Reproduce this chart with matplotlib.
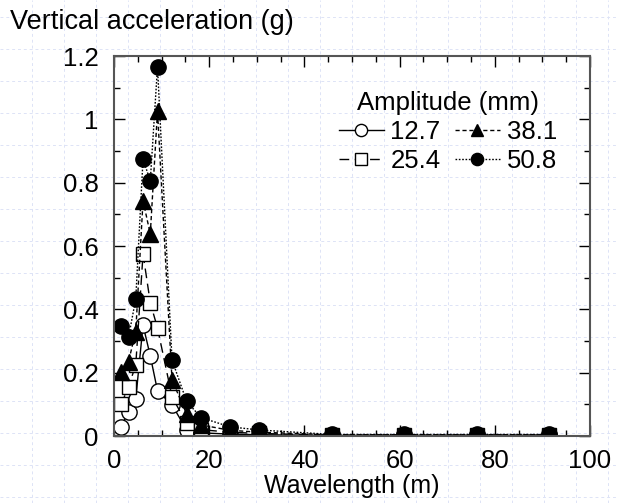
import matplotlib
matplotlib.use('Agg')
import matplotlib.pyplot as plt
from matplotlib.lines import Line2D
from matplotlib.ticker import MultipleLocator

# wavelengths (m)
wavelength = [1.52, 3.05, 4.57, 6.10, 7.62, 9.14, 12.19, 15.24, 18.29,
              24.38, 30.48, 45.72, 60.96, 76.20, 91.44]

# vertical acceleration (g) for each amplitude
acc_127 = [0.03, 0.077, 0.117, 0.35, 0.253, 0.143, 0.098, 0.02, 0.01,
           0.006, 0.004, 0.002, 0.002, 0.002, 0.002]
acc_254 = [0.10, 0.156, 0.224, 0.575, 0.421, 0.341, 0.124, 0.04, 0.02,
           0.012, 0.008, 0.003, 0.003, 0.003, 0.003]
acc_381 = [0.203, 0.235, 0.33, 0.743, 0.638, 1.026, 0.177, 0.07, 0.035,
           0.018, 0.012, 0.004, 0.004, 0.004, 0.004]
acc_508 = [0.347, 0.312, 0.433, 0.875, 0.805, 1.166, 0.24, 0.11, 0.058,
           0.029, 0.019, 0.005, 0.005, 0.005, 0.005]

labels = ['12.7', '25.4', '38.1', '50.8']

plt.rcParams['font.family'] = ['Liberation Sans', 'DejaVu Sans']

fig = plt.figure(figsize=(6.17, 5.03), dpi=100)

# faint page grid behind everything
W, H = 617, 503
gc = '#dde3f6'
x = 31.7
while x < W:
    fig.add_artist(Line2D([x / W, x / W], [0, 1], color=gc, lw=0.7,
                          ls=(0, (3, 3)), zorder=0))
    x += 32
y = 17.3
while y < H:
    fig.add_artist(Line2D([0, 1], [1 - y / H, 1 - y / H], color=gc, lw=0.7,
                          ls=(0, (3, 3)), zorder=0))
    y += 32

ax = fig.add_axes([114 / W, 1 - 436 / H, 476 / W, 380 / H])
ax.patch.set_alpha(0)

ms = 11
ax.plot(wavelength, acc_127, '-', color='black', lw=1, marker='o', ms=ms,
        mfc='white', mec='black', mew=1, label=labels[0])
ax.plot(wavelength, acc_254, color='black', lw=1, ls=(0, (7, 4)), marker='s',
        ms=ms - 1, mfc='white', mec='black', mew=1, label=labels[1])
ax.plot(wavelength, acc_381, color='black', lw=1, ls=(0, (3, 2)), marker='^',
        ms=ms, mfc='black', mec='black', label=labels[2])
ax.plot(wavelength, acc_508, color='black', lw=1, ls=(0, (1.2, 1.2)), marker='o',
        ms=ms, mfc='black', mec='black', label=labels[3])

ax.set_xlim(0, 100)
ax.set_ylim(0, 1.2)
ax.xaxis.set_major_locator(MultipleLocator(20))
ax.xaxis.set_minor_locator(MultipleLocator(5))
ax.yaxis.set_minor_locator(MultipleLocator(0.1))
ax.set_yticks([0, 0.2, 0.4, 0.6, 0.8, 1.0, 1.2])
ax.set_yticklabels(['0', '0.2', '0.4', '0.6', '0.8', '1', '1.2'])

ax.tick_params(which='both', direction='in', top=True, right=True,
               labelsize=18.5)
ax.tick_params(axis='x', pad=9)
ax.tick_params(axis='y', pad=11)
ax.tick_params(which='major', length=8, width=1)
ax.tick_params(which='minor', length=4, width=1)
for s in ax.spines.values():
    s.set_color('#555555')
    s.set_linewidth(1.5)

ax.set_xlabel('Wavelength (m)', fontsize=18, labelpad=1)
fig.text(10 / W, 1 - 9 / H, 'Vertical acceleration (g)', fontsize=19.5,
         ha='left', va='top')

leg = ax.legend(ncol=2, loc='upper right', bbox_to_anchor=(0.979, 0.97),
                frameon=False, fontsize=18.5, title='Amplitude (mm)',
                title_fontsize=18.5, handlelength=1.75, handletextpad=0.27,
                columnspacing=0.55, labelspacing=0.2, markerscale=0.8)

plt.savefig('out.png', dpi=100)
